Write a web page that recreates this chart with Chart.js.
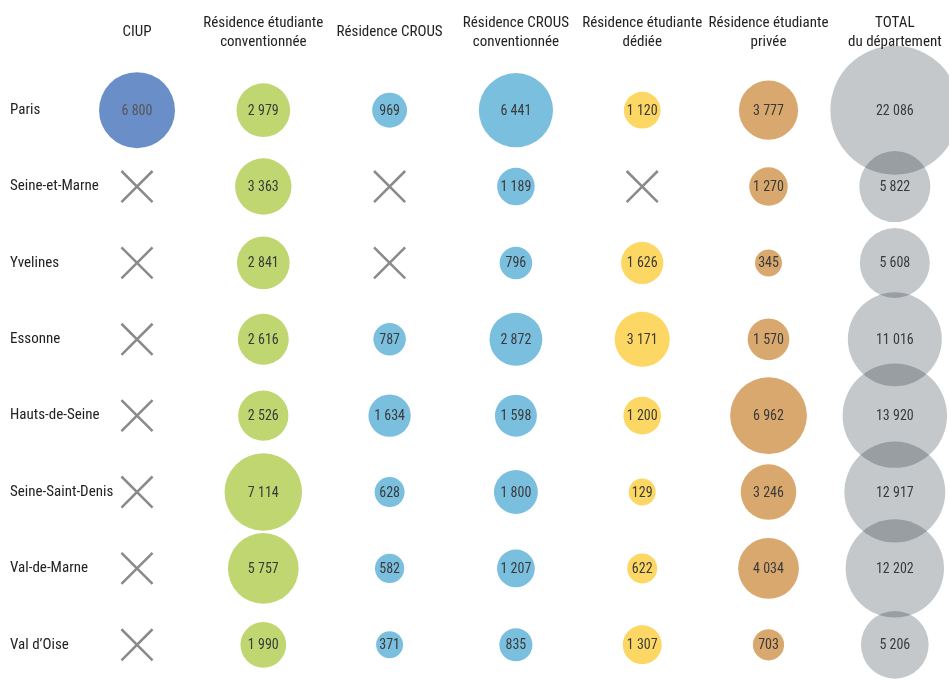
<!DOCTYPE html>
<html>
<head>
<meta charset="utf-8">
<script src="https://cdn.jsdelivr.net/npm/chart.js@4/dist/chart.umd.min.js"></script>
<style>
  html, body { margin: 0; padding: 0; background: #ffffff; }
</style>
</head>
<body>
<canvas id="c" width="949" height="681"></canvas>
<script>
// ---- Data ----
const departements = ['Paris', 'Seine-et-Marne', 'Yvelines', 'Essonne', 'Hauts-de-Seine', 'Seine-Saint-Denis', 'Val-de-Marne', 'Val d\u2019Oise'];
const colonnes = [
  ['CIUP'],
  ['Résidence étudiante', 'conventionnée'],
  ['Résidence CROUS'],
  ['Résidence CROUS', 'conventionnée'],
  ['Résidence étudiante', 'dédiée'],
  ['Résidence étudiante', 'privée'],
  ['TOTAL', 'du département']
];
const ciup              = [6800, null, null, null, null, null, null, null];
const etudConventionnee = [2979, 3363, 2841, 2616, 2526, 7114, 5757, 1990];
const crous             = [969, null, null, 787, 1634, 628, 582, 371];
const crousConventionnee= [6441, 1189, 796, 2872, 1598, 1800, 1207, 835];
const etudDediee        = [1120, null, 1626, 3171, 1200, 129, 622, 1307];
const etudPrivee        = [3777, 1270, 345, 1570, 6962, 3246, 4034, 703];
const totalDepartement  = [22086, 5822, 5608, 11016, 13920, 12917, 12202, 5206];

const series = [ciup, etudConventionnee, crous, crousConventionnee, etudDediee, etudPrivee, totalDepartement];
const couleurs = ['#6a8fc8', '#bfd671', '#7bbfdf', '#7bbfdf', '#fdd764', '#d9a86e', 'rgba(13,26,38,0.24)'];

const FONT = "'Roboto Condensed', 'DejaVu Sans Condensed', sans-serif";

function rayon(v) { return Math.max(13.5, 5 + 0.4 * Math.sqrt(v)); }
function fmt(v) { return String(v).replace(/\B(?=(\d{3})+(?!\d))/g, ' '); }

const datasets = [];
const croix = [];
series.forEach((s, c) => {
  const pts = [];
  s.forEach((v, i) => {
    if (v == null) croix.push({ x: c, y: i, r: 22 });
    else pts.push({ x: c, y: i, r: rayon(v), v: v });
  });
  datasets.push({
    label: colonnes[c].join(' '),
    data: pts,
    backgroundColor: couleurs[c],
    borderWidth: 0,
    hoverBorderWidth: 0,
    clip: false
  });
});
datasets.push({
  label: 'absent',
  data: croix,
  pointStyle: 'crossRot',
  backgroundColor: 'rgba(0,0,0,0)',
  borderColor: '#8a8a8a',
  borderWidth: 2.5,
  clip: false,
  isCross: true
});

const labelPlugin = {
  id: 'bubbleLabels',
  afterDatasetsDraw(chart) {
    const ctx = chart.ctx;
    ctx.save();
    ctx.font = "14px " + FONT;
    ctx.textAlign = 'center';
    ctx.textBaseline = 'middle';
    chart.data.datasets.forEach((ds, di) => {
      if (ds.isCross) return;
      const meta = chart.getDatasetMeta(di);
      meta.data.forEach((el, k) => {
        ctx.fillStyle = di === 0 ? '#555555' : '#3a3a3a';
        ctx.fillText(fmt(ds.data[k].v), el.x, el.y + 1);
      });
    });
    ctx.restore();
  }
};

function noPad(axis) {
  axis.paddingLeft = 0; axis.paddingRight = 0;
  axis.paddingTop = 0; axis.paddingBottom = 0;
}

new Chart(document.getElementById('c'), {
  type: 'bubble',
  data: { datasets: datasets },
  plugins: [labelPlugin],
  options: {
    responsive: false,
    animation: false,
    layout: { autoPadding: false, padding: { left: 10, right: 0, top: 0, bottom: 0 } },
    plugins: { legend: { display: false }, tooltip: { enabled: false } },
    scales: {
      x: {
        type: 'linear',
        position: 'top',
        min: -0.0554,
        max: 6.429,
        grid: { display: false, drawTicks: false },
        border: { display: false },
        afterBuildTicks(axis) { axis.ticks = colonnes.map((_, i) => ({ value: i })); },
        afterFit(axis) { axis.height = 72; noPad(axis); },
        ticks: {
          autoSkip: false,
          maxRotation: 0,
          minRotation: 0,
          crossAlign: 'center',
          padding: 30,
          color: '#222222',
          font: { family: FONT, size: 15, lineHeight: 1.27 },
          callback: (v) => colonnes[v]
        }
      },
      y: {
        type: 'linear',
        reverse: true,
        min: -0.5,
        max: 7.474,
        grid: { display: false, drawTicks: false },
        border: { display: false },
        afterBuildTicks(axis) { axis.ticks = departements.map((_, i) => ({ value: i })); },
        afterFit(axis) { axis.width = 120; noPad(axis); },
        ticks: {
          autoSkip: false,
          crossAlign: 'far',
          padding: 0,
          color: '#222222',
          font: { family: FONT, size: 15 },
          callback: (v) => departements[v]
        }
      }
    }
  }
});
</script>
</body>
</html>
